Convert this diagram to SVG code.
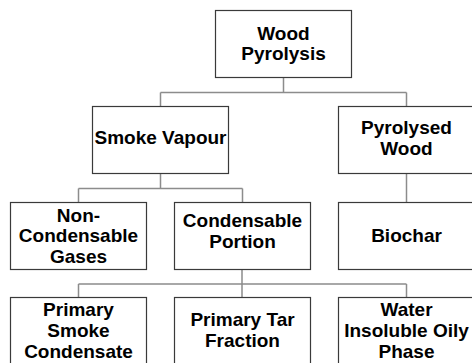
<svg xmlns="http://www.w3.org/2000/svg" width="472" height="363" viewBox="0 0 472 363">
<style>
.box{fill:#fff;stroke:#3a3a3a;stroke-width:1.2}
.t{font-family:"Liberation Sans",Arial,sans-serif;font-weight:bold;font-size:19px;fill:#000;text-anchor:middle}
.c{fill:none;stroke:#8c8c8c;stroke-width:1.5}
</style>
<rect width="472" height="363" fill="#fff"/>
<g id="connectors">
<path class="c" d="M283.5 77V92.5M160.5 92.5H406.5M160.5 92.5V106M406.5 92.5V106"/>
<path class="c" d="M160.5 173V188.5M78.5 188.5H242.5M78.5 188.5V202M242.5 188.5V202"/>
<path class="c" d="M406.5 173V202"/>
<path class="c" d="M242 269V297M78.5 284H406.5M78.5 284V297M406.5 284V297"/>
</g>
<g id="wood-pyrolysis"><rect class="box" x="215.5" y="10.5" width="136" height="67"/><text class="t" x="283.5" y="39.5">Wood</text><text class="t" x="283.5" y="60">Pyrolysis</text></g>
<g id="smoke-vapour"><rect class="box" x="92.5" y="106.5" width="136" height="67"/><text class="t" x="160.5" y="143.5">Smoke Vapour</text></g>
<g id="pyrolysed-wood"><rect class="box" x="338.5" y="106.5" width="136" height="67"/><text class="t" x="406.5" y="134">Pyrolysed</text><text class="t" x="406.5" y="155">Wood</text></g>
<g id="non-condensable"><rect class="box" x="10.5" y="202.5" width="136" height="67"/><text class="t" x="78.5" y="221.5">Non-</text><text class="t" x="78.5" y="242">Condensable</text><text class="t" x="78.5" y="262.5">Gases</text></g>
<g id="condensable"><rect class="box" x="174.5" y="202.5" width="136" height="67"/><text class="t" x="242.5" y="227">Condensable</text><text class="t" x="242.5" y="248">Portion</text></g>
<g id="biochar"><rect class="box" x="338.5" y="202.5" width="136" height="67"/><text class="t" x="406.5" y="242">Biochar</text></g>
<g id="primary-smoke"><rect class="box" x="10.5" y="297.5" width="136" height="70"/><text class="t" x="78.5" y="316">Primary</text><text class="t" x="78.5" y="337">Smoke</text><text class="t" x="78.5" y="358">Condensate</text></g>
<g id="primary-tar"><rect class="box" x="174.5" y="297.5" width="136" height="70"/><text class="t" x="242.5" y="326">Primary Tar</text><text class="t" x="242.5" y="347">Fraction</text></g>
<g id="water-insoluble"><rect class="box" x="338.5" y="297.5" width="136" height="70"/><text class="t" x="406.5" y="316">Water</text><text class="t" x="406.5" y="337">Insoluble Oily</text><text class="t" x="406.5" y="358">Phase</text></g>
</svg>
